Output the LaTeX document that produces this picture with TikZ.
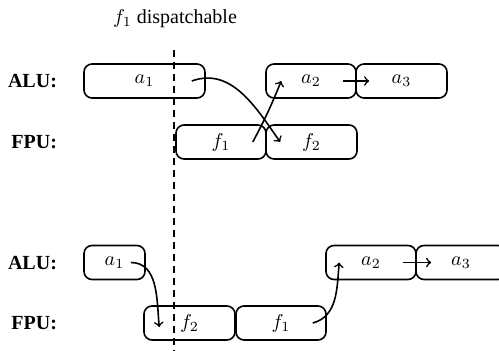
\documentclass[tikz,border=0pt]{standalone}
\usepackage{fontspec}
\setmainfont{Liberation Serif}
\begin{document}
\begin{tikzpicture}[x=0.5pt,y=-0.5pt,
  box/.style={draw,thick,rounded corners=4pt,minimum height=17pt,inner sep=0pt},
  unit/.style={anchor=east,font=\bfseries},
  conn/.style={->,thick}]
\useasboundingbox (0,0) rectangle (499,350);
\node (title) at (175,19) {$f_1$ dispatchable};
\coordinate (dtop) at (174,50);
\coordinate (dbot) at (174,352);
\draw[thick,dash pattern=on 3.5pt off 2.5pt] (dtop) -- (dbot);
% top
\node[unit] (alu1) at (64,81) {ALU:};
\node[unit] (fpu1) at (64,142) {FPU:};
\node[box,minimum width=60.5pt] (ta1) at (144.5,81) {$a_1$};
\node[box,minimum width=45pt] (ta2) at (311,81) {$a_2$};
\node[box,minimum width=45.5pt] (ta3) at (401.5,81) {$a_3$};
\node[box,minimum width=45pt] (tf1) at (221,142) {$f_1$};
\node[box,minimum width=45.5pt] (tf2) at (311.5,142) {$f_2$};
\draw[conn] ([xshift=-7pt]ta1.east) to[out=20,in=125] ([xshift=7.5pt]tf2.west);
\draw[conn] ([xshift=-7pt]tf1.east) to[out=62,in=-112] ([xshift=8pt]ta2.west);
\draw[conn] ([xshift=-7pt]ta2.east) -- ([xshift=7pt]ta3.west);
% bottom
\node[unit] (alu2) at (64,263) {ALU:};
\node[unit] (fpu2) at (64,323) {FPU:};
\node[box,minimum width=30.5pt] (ba1) at (114.5,262.5) {$a_1$};
\node[box,minimum width=45.5pt] (bf2) at (189.5,323) {$f_2$};
\node[box,minimum width=45pt] (bf1) at (281,323) {$f_1$};
\node[box,minimum width=45pt] (ba2) at (371,262.5) {$a_2$};
\node[box,minimum width=45pt] (ba3) at (461,262.5) {$a_3$};
\draw[conn] ([xshift=-7.5pt]ba1.east) to[out=0,in=95] ([xshift=8pt,yshift=-2pt]bf2.west);
\draw[conn] ([xshift=-7pt]bf1.east) to[out=15,in=-95] ([xshift=7pt]ba2.west);
\draw[conn] ([xshift=-7pt]ba2.east) -- ([xshift=8pt]ba3.west);
\end{tikzpicture}
\end{document}
